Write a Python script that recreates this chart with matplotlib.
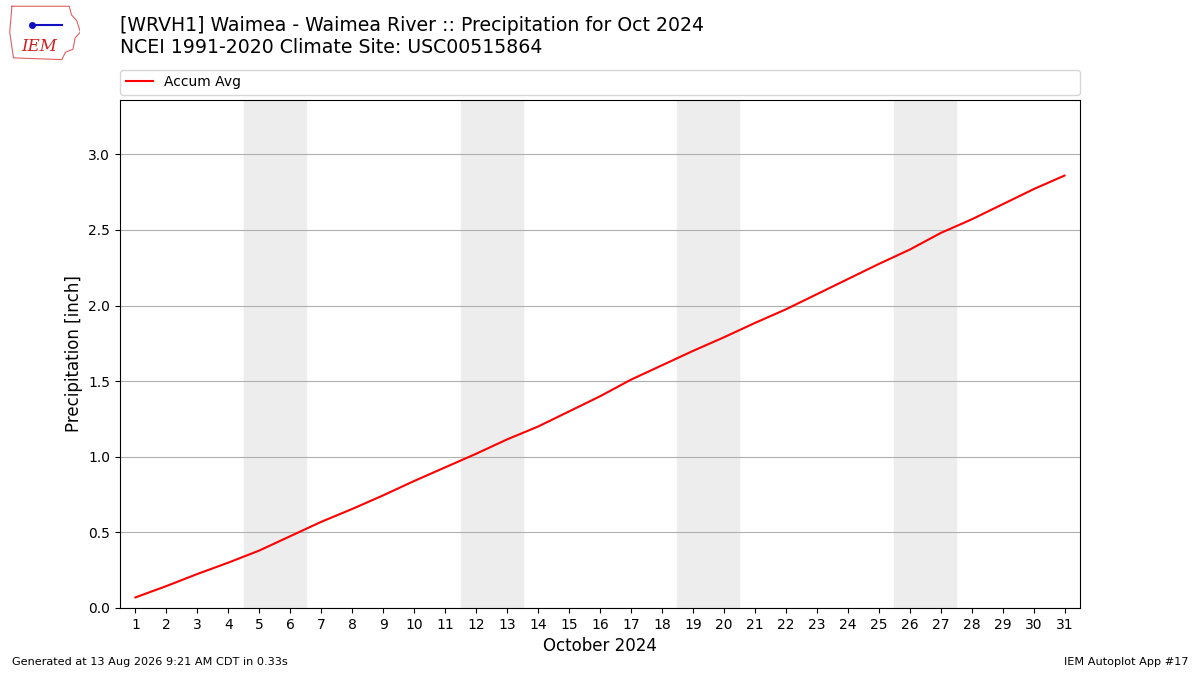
import matplotlib.pyplot as plt

# daily accumulated average precipitation (inch), Oct 2024
days = list(range(1, 32))
accum_avg = [0.07, 0.145, 0.225, 0.30, 0.38, 0.475, 0.57, 0.655, 0.745, 0.84,
             0.93, 1.02, 1.115, 1.20, 1.30, 1.40, 1.51, 1.605, 1.70, 1.79,
             1.885, 1.975, 2.075, 2.175, 2.275, 2.37, 2.48, 2.57, 2.67, 2.77,
             2.86]
weekends = [(4.5, 6.5), (11.5, 13.5), (18.5, 20.5), (25.5, 27.5)]

fig = plt.figure(figsize=(12, 6.75), dpi=100)
ax = fig.add_axes([0.1, 0.0993, 0.8, 0.7526])

for start, end in weekends:
    ax.axvspan(start, end, color='#ededed', zorder=0)

ax.plot(days, accum_avg, color='red', lw=1.5, label='Accum Avg', zorder=3)

ax.set_xlim(0.5, 31.5)
ax.set_ylim(0, 3.36)
ax.set_xticks(days)
ax.set_yticks([0, 0.5, 1.0, 1.5, 2.0, 2.5, 3.0])
ax.grid(axis='y', color='#b0b0b0', lw=0.8)
ax.set_axisbelow(True)
ax.set_xlabel('October 2024', fontsize=12)
ax.set_ylabel('Precipitation [inch]', fontsize=12)

ax.legend(loc='lower left', bbox_to_anchor=(0, 1.01, 1, 0.05), mode='expand',
          borderaxespad=0, fontsize=10, frameon=True)

fig.text(0.1, 0.977, '[WRVH1] Waimea - Waimea River :: Precipitation for Oct 2024\n'
         'NCEI 1991-2020 Climate Site: USC00515864', fontsize=13.6, va='top', ha='left')

fig.text(0.01, 0.015, 'Generated at 13 Aug 2026 9:21 AM CDT in 0.33s', fontsize=8.1)
fig.text(0.99, 0.015, 'IEM Autoplot App #17', fontsize=8.1, ha='right')

# rough IEM logo
logo = fig.add_axes([0.005, 0.91, 0.062, 0.085])
logo.axis('off')
logo.set_xlim(0, 1)
logo.set_ylim(0, 1)
outline_x = [0.08, 0.85, 0.88, 0.95, 1.0, 0.93, 0.9, 0.8, 0.75, 0.1, 0.05, 0.08]
outline_y = [0.95, 0.95, 0.8, 0.7, 0.5, 0.4, 0.2, 0.15, 0.02, 0.05, 0.5, 0.95]
logo.plot(outline_x, outline_y, color='#e06060', lw=0.8)
logo.text(0.45, 0.25, 'IEM', color='#d02020', fontsize=12, family='serif',
          style='italic', ha='center', va='center')
logo.plot([0.35, 0.75], [0.62, 0.62], color='#1010c0', lw=1.5)
logo.plot([0.35], [0.62], 'o', color='#1010c0', ms=4)

fig.savefig('out.png', dpi=100)
